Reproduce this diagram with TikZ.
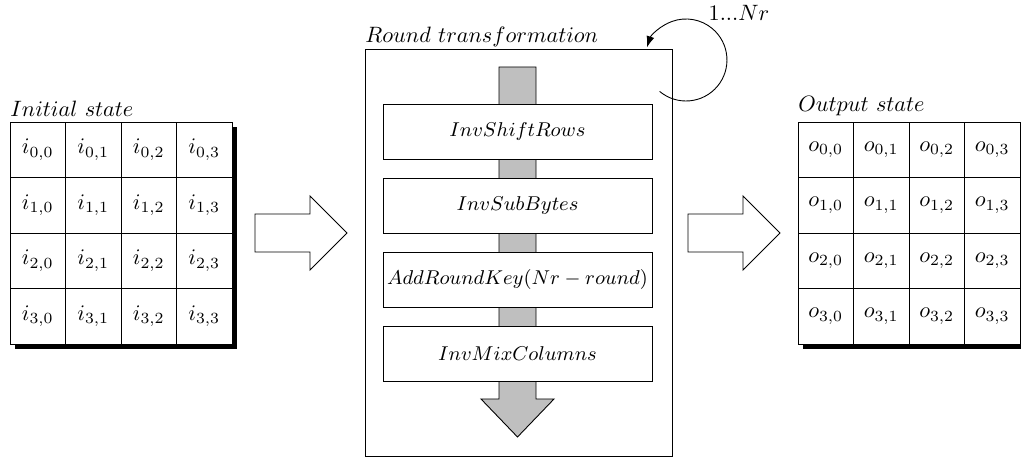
\documentclass[tikz,border=0pt]{standalone}
\usepackage{tikz}
\usetikzlibrary{arrows.meta}
\tikzset{
  cell/.style={draw, fill=white, minimum size=25pt, inner sep=0pt},
  stage/.style={draw, fill=white, minimum width=121.05pt, minimum height=24.75pt, inner sep=0pt, font=\small},
  caption/.style={anchor=base west, inner sep=0pt},
}
\begin{document}
\begin{tikzpicture}[x=0.45pt,y=0.45pt]
\useasboundingbox (0,0) rectangle (1021,457);

% Initial state
\fill[black] (15,108) rectangle (237,330);
\foreach \r in {0,...,3}
  \foreach \c in {0,...,3}
    \node[cell] (i\r\c) at ({37.75+55.5*\c},{307.25-55.5*\r}) {$i_{\r,\c}$};
\node[caption] (initlabel) at (10,340) {$Initial\ state$};

% Round transformation
\node[draw, minimum width=138.15pt, minimum height=183.15pt] (roundbox) at (518.5,204.5) {};
\node[caption] (roundlabel) at (365,414) {$Round\ transformation$};
\filldraw[fill=black!25] (499,390) -- (499,58) -- (481,58) -- (517.5,20) -- (554,58) -- (536,58) -- (536,390) -- cycle;
\node[stage] (shiftrows) at (517.5,325.5) {$InvShiftRows$};
\node[stage] (subbytes) at (517.5,251.5) {$InvSubBytes$};
\node[stage] (addkey) at (517.5,177.5) {$AddRoundKey(Nr-round)$};
\node[stage] (mixcols) at (517.5,103.5) {$InvMixColumns$};

% Rounds loop
\coordinate (loopstart) at (659.6,365.6);
\draw[-{Latex[length=5pt,width=3.6pt]}] (loopstart) arc[start angle=230, end angle=522, radius=41];
\node (looplabel) at (739,444) {$1...Nr$};

% Big arrows
\foreach \x in {255,688}
  \draw (\x,205) -- ++(55,0) -- ++(0,-18) -- ++(37,37) -- ++(-37,37) -- ++(0,-18) -- ++(-55,0) -- cycle;

% Output state
\fill[black] (803,108) rectangle (1025,330);
\foreach \r in {0,...,3}
  \foreach \c in {0,...,3}
    \node[cell] (o\r\c) at ({825.75+55.5*\c},{307.25-55.5*\r}) {$o_{\r,\c}$};
\node[caption] (outlabel) at (798,345) {$Output\ state$};

\end{tikzpicture}
\end{document}
